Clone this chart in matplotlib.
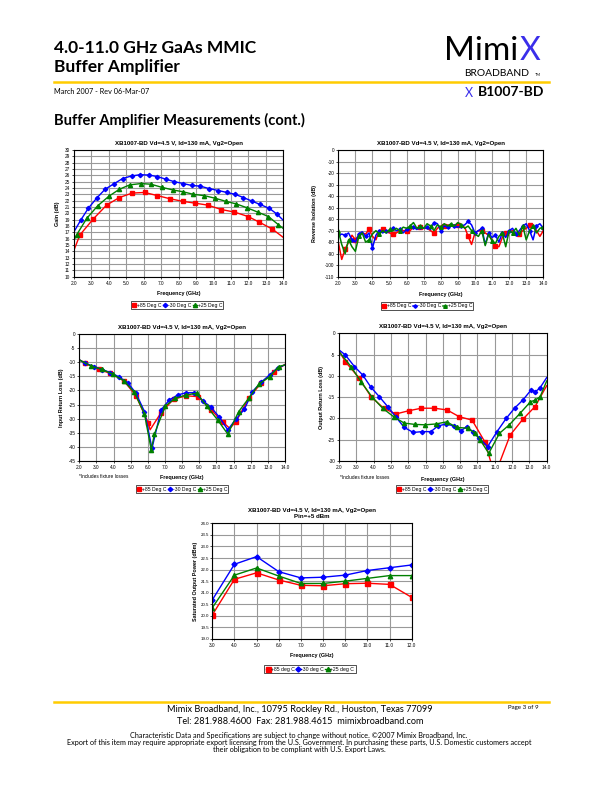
import numpy as np
import matplotlib
matplotlib.use("Agg")
import matplotlib.pyplot as plt
from matplotlib.ticker import MultipleLocator, FormatStrFormatter
from matplotlib.lines import Line2D

W, H = 612, 792
RED, BLUE, GREEN = "#FF0000", "#0000FF", "#008000"
GOLD = "#FFCC00"
CHART_FONT = "Liberation Sans"
PAGE_FONT = "Lato"

# ---- gain (dB) ----
gain_hot_f = [2.0, 2.34, 3.1, 3.87, 4.6, 5.34, 6.05, 6.78, 7.51, 8.23, 8.96, 9.67, 10.45, 11.2, 11.98, 12.63, 13.38, 14.0]
gain_hot = [14.2, 16.6, 19.1, 21.3, 22.5, 23.2, 23.3, 22.8, 22.3, 21.9, 21.6, 21.3, 20.6, 20.2, 19.5, 18.6, 17.5, 16.2]
gain_cold_f = [2.0, 2.38, 2.82, 3.3, 3.78, 4.31, 4.79, 5.3, 5.79, 6.3, 6.78, 7.26, 7.75, 8.27, 8.75, 9.23,
               9.76, 10.28, 10.76, 11.24, 11.71, 12.23, 12.67, 13.19, 13.63, 14.0]
gain_cold = [17.1, 18.9, 20.8, 22.4, 23.8, 24.7, 25.5, 25.9, 26.1, 26.05, 25.8, 25.4, 25.0, 24.7, 24.4, 24.3,
             23.9, 23.6, 23.3, 23.0, 22.5, 21.9, 21.4, 20.8, 19.9, 18.9]
gain_room_f = [2.0, 2.15, 2.73, 3.36, 4.0, 4.6, 5.2, 5.84, 6.41, 7.05, 7.66, 8.26, 8.85, 9.46, 10.07, 10.7,
               11.29, 11.9, 12.53, 13.15, 13.72, 14.0]
gain_room = [15.8, 16.6, 19.2, 21.2, 22.7, 23.8, 24.5, 24.7, 24.6, 24.1, 23.7, 23.4, 23.0, 22.8, 22.4, 21.9,
             21.5, 20.9, 20.2, 19.5, 18.2, 17.6]

# ---- reverse isolation (dB), sweep 2-14 GHz in 0.2 GHz steps ----
iso_f = np.linspace(2.0, 14.0, 61)
iso_hot = [-80, -95, -86, -80, -74, -78, -74, -72, -73, -69, -75, -78, -70, -69, -71, -72, -73, -72, -70, -70,
           -70, -70, -67, -68, -67, -68, -68, -70, -72, -68, -66, -66, -65, -66, -65, -65, -67, -67, -75, -82,
           -72, -70, -70, -72, -74, -78, -83, -84, -76, -72, -71, -70, -74, -73, -70, -68, -65, -65, -70, -75, -70]
iso_cold = [-74, -73, -74, -72, -78, -80, -73, -71, -75, -72, -85, -74, -70, -72, -70, -71, -68, -70, -69, -72,
            -69, -68, -67, -69, -67, -68, -67, -69, -63, -64, -70, -66, -67, -65, -66, -67, -66, -65, -62, -65,
            -72, -70, -68, -82, -72, -76, -74, -80, -72, -76, -70, -68, -73, -70, -66, -64, -70, -78, -66, -64, -68]
iso_room = [-70, -82, -90, -78, -84, -88, -75, -72, -80, -78, -73, -70, -73, -70, -72, -69, -70, -68, -70, -67,
            -68, -66, -63, -68, -66, -68, -64, -66, -70, -65, -67, -64, -66, -64, -66, -63, -65, -68, -66, -70,
            -73, -75, -70, -83, -73, -79, -81, -75, -72, -84, -70, -72, -68, -74, -66, -78, -70, -66, -72, -68, -67]

# ---- input return loss (dB) ----
irl_hot_f = [2.0, 2.35, 3.13, 3.81, 4.59, 5.31, 6.03, 6.13, 6.77, 7.5, 8.23, 8.95, 9.69, 10.4, 10.78, 11.14,
             11.88, 12.6, 13.38, 14.0]
irl_hot = [-9.1, -10.3, -12.5, -13.9, -16.5, -21.9, -31.7, -34.0, -27.9, -23.1, -21.9, -22.2, -26.9, -31.4,
           -33.5, -31.1, -22.8, -17.4, -13.3, -10.7]
irl_cold_f = [2.0, 2.35, 2.88, 3.35, 3.81, 4.3, 4.82, 5.31, 5.8, 6.24, 6.77, 7.25, 7.74, 8.23, 8.72, 9.2,
              9.69, 10.17, 10.66, 11.14, 11.63, 12.1, 12.6, 13.1, 13.57, 14.0]
irl_cold = [-9.1, -10.3, -11.5, -12.6, -13.6, -15.1, -17.2, -21.0, -27.5, -40.6, -26.9, -23.4, -21.6, -20.8,
            -20.8, -23.6, -26.0, -29.5, -34.0, -30.2, -26.7, -20.4, -17.1, -14.5, -11.9, -10.9]
irl_room_f = [2.0, 2.68, 3.33, 3.95, 4.59, 5.21, 5.8, 6.2, 6.38, 7.02, 7.6, 8.23, 8.85, 9.45, 10.07, 10.66,
              11.3, 11.88, 12.47, 13.1, 13.63, 14.0]
irl_room = [-9.1, -11.3, -12.5, -14.2, -16.5, -20.6, -28.3, -41.2, -35.5, -25.5, -22.8, -21.6, -21.0, -25.7,
            -30.5, -35.5, -27.5, -22.8, -17.8, -15.1, -11.5, -10.9]

# ---- output return loss (dB) ----
orl_hot_f = [2.0, 2.37, 3.14, 3.85, 4.58, 5.29, 6.02, 6.76, 7.51, 8.24, 8.95, 9.69, 10.44, 10.79, 11.0, 11.27,
             11.89, 12.62, 13.33, 14.0]
orl_hot = [-4.1, -6.7, -10.4, -14.9, -17.6, -18.95, -18.2, -17.6, -17.6, -18.0, -19.6, -20.4, -25.6, -30.5,
           -33.0, -30.5, -23.9, -20.2, -17.2, -12.3]
orl_cold_f = [2.0, 2.37, 2.89, 3.37, 3.85, 4.33, 4.81, 5.29, 5.77, 6.29, 6.79, 7.31, 7.7, 8.18, 8.66, 9.05,
              9.38, 9.72, 10.11, 10.59, 11.13, 11.66, 12.14, 12.62, 13.1, 13.35, 13.6, 14.0]
orl_cold = [-3.9, -5.1, -7.8, -9.8, -12.7, -14.9, -17.2, -19.7, -22.1, -23.3, -23.1, -23.1, -21.8, -21.3,
            -21.8, -22.9, -21.9, -23.1, -24.7, -26.6, -23.1, -20.0, -17.6, -15.7, -13.3, -13.7, -12.9, -10.4]
orl_room_f = [2.0, 2.69, 3.27, 3.9, 4.52, 5.19, 5.77, 6.38, 6.98, 7.6, 8.22, 8.8, 9.44, 9.88, 10.15, 10.65,
              11.27, 11.84, 12.46, 13.06, 13.33, 13.62, 14.0]
orl_room = [-4.3, -7.8, -11.4, -14.9, -17.6, -19.7, -21.1, -21.4, -21.5, -21.3, -20.8, -22.1, -22.3, -23.5,
            -25.0, -28.2, -23.5, -21.5, -18.8, -16.1, -15.7, -14.9, -11.2]

# ---- saturated output power (dBm) ----
psat_f = [3.0, 4.0, 5.0, 6.0, 7.0, 8.0, 9.0, 10.0, 11.0, 12.0]
psat_hot = [20.04, 21.58, 21.86, 21.55, 21.32, 21.30, 21.39, 21.41, 21.36, 20.80]
psat_cold = [20.69, 22.23, 22.56, 21.91, 21.64, 21.67, 21.76, 21.96, 22.08, 22.20]
psat_room = [20.35, 21.76, 22.07, 21.72, 21.40, 21.40, 21.50, 21.62, 21.74, 21.74]

title = "XB1007-BD Vd=4.5 V, Id=130 mA, Vg2=Open"
leg_deg = ["+85 Deg C", "-30 Deg C", "+25 Deg C"]
leg_deg_lower = ["+85 deg C", "-30 deg C", "+25 deg C"]

fig = plt.figure(figsize=(W / 100, H / 100), dpi=100)
fig.patch.set_facecolor("white")


def fx(x):
    return x / W


def fy(y):
    return 1 - y / H


def make_axes(left, top, right, bottom):
    return fig.add_axes([fx(left), fy(bottom), (right - left) / W, (bottom - top) / H])


def style(ax, ttl, ylabel, xlim, ylim, ystep, yfmt, xstep, ylab_x, xlab_y, legend_xy, labels):
    ax.set_xlim(*xlim)
    ax.set_ylim(*ylim)
    ax.xaxis.set_major_locator(MultipleLocator(xstep))
    ax.xaxis.set_major_formatter(FormatStrFormatter("%.1f"))
    ax.yaxis.set_major_locator(MultipleLocator(ystep))
    ax.yaxis.set_major_formatter(FormatStrFormatter(yfmt))
    ax.grid(True, color="#999999", linewidth=0.8)
    ax.set_axisbelow(True)
    for s in ax.spines.values():
        s.set_linewidth(0.8)
        s.set_color("black")
    ax.tick_params(length=1.6, width=0.5, labelsize=3.4, pad=1.2)
    for lab in ax.get_xticklabels() + ax.get_yticklabels():
        lab.set_fontfamily(CHART_FONT)
    ax.set_title(ttl, fontsize=4.4, fontweight="bold", family=CHART_FONT, pad=3.5)
    ax.set_xlabel("Frequency (GHz)", fontsize=3.9, fontweight="bold", family=CHART_FONT, va="center")
    ax.set_ylabel(ylabel, fontsize=3.9, fontweight="bold", family=CHART_FONT, va="center", ha="center")
    pos = ax.get_position()
    ax.xaxis.set_label_coords((pos.x0 + pos.x1) / 2, fy(xlab_y), transform=fig.transFigure)
    ax.yaxis.set_label_coords(fx(ylab_x), (pos.y0 + pos.y1) / 2, transform=fig.transFigure)
    leg = ax.legend(labels, loc="center", bbox_to_anchor=(fx(legend_xy[0]), fy(legend_xy[1])),
                    bbox_transform=fig.transFigure, ncol=3, frameon=True, fancybox=False,
                    edgecolor="black", handlelength=0.9, handletextpad=0.1, columnspacing=0.25,
                    borderpad=0.25, borderaxespad=0, prop={"family": CHART_FONT, "size": 3.7})
    leg.get_frame().set_linewidth(0.6)


# 1: gain
ax1 = make_axes(74, 150, 283.3, 276.7)
ax1.plot(gain_hot_f, gain_hot, color=RED, lw=1.0, marker="s", ms=3.4, markevery=slice(1, -1))
ax1.plot(gain_cold_f, gain_cold, color=BLUE, lw=1.0, marker="D", ms=2.2, markevery=slice(1, -1))
ax1.plot(gain_room_f, gain_room, color=GREEN, lw=1.0, marker="^", ms=3.0, markevery=slice(1, -1))
style(ax1, title, "Gain (dB)", (2, 14), (10, 30), 1, "%d", 1, 57, 294, (177, 305), leg_deg)

# 2: reverse isolation
ax2 = make_axes(338.3, 150, 543.3, 276.7)
red_marks = [2, 5, 9, 13, 16, 20, 24, 28, 31, 35, 38, 42, 46, 49, 53, 56]
ax2.plot(iso_f, iso_hot, color=RED, lw=1.1, marker="s", ms=3.4, markevery=red_marks)
ax2.plot(iso_f, iso_cold, color=BLUE, lw=1.1, marker="D", ms=1.8, markevery=2)
ax2.plot(iso_f, iso_room, color=GREEN, lw=1.1, marker="^", ms=2.6, markevery=3)
style(ax2, title, "Reverse Isolation (dB)", (2, 14), (-110, 0), 10, "%d", 1, 315, 295, (427, 306), leg_deg)

# 3: input return loss
ax3 = make_axes(79.3, 334.3, 285, 460.7)
ax3.plot(irl_hot_f, irl_hot, color=RED, lw=1.0, marker="s", ms=3.4,
         markevery=[1, 2, 3, 4, 5, 6, 8, 9, 10, 11, 12, 13, 15, 16, 17, 18])
ax3.plot(irl_cold_f, irl_cold, color=BLUE, lw=1.0, marker="D", ms=2.2, markevery=slice(1, -1))
ax3.plot(irl_room_f, irl_room, color=GREEN, lw=1.0, marker="^", ms=3.0, markevery=slice(1, -1))
style(ax3, title, "Input Return Loss (dB)", (2, 14), (-45, 0), 5, "%d", 1, 62, 478, (182, 489), leg_deg)
fig.text(fx(79), fy(477), "*Includes fixture losses", fontsize=3.4, family=CHART_FONT, va="center", ha="left")

# 4: output return loss
ax4 = make_axes(339, 333.3, 546.7, 461)
ax4.plot(orl_hot_f, orl_hot, color=RED, lw=1.0, marker="s", ms=3.4,
         markevery=[1, 2, 3, 4, 5, 6, 7, 8, 9, 10, 11, 12, 16, 17, 18])
ax4.plot(orl_cold_f, orl_cold, color=BLUE, lw=1.0, marker="D", ms=2.2, markevery=slice(1, -1))
ax4.plot(orl_room_f, orl_room, color=GREEN, lw=1.0, marker="^", ms=3.0, markevery=slice(1, -1))
style(ax4, title, "Output Return Loss (dB)", (2, 14), (-30, 0), 5, "%d", 1, 321, 479, (442, 489), leg_deg)
fig.text(fx(340), fy(478), "*Includes fixture losses", fontsize=3.4, family=CHART_FONT, va="center", ha="left")

# 5: saturated output power
ax5 = make_axes(212.3, 523.3, 411.7, 639)
ax5.plot(psat_f, psat_hot, color=RED, lw=1.0, marker="s", ms=3.6)
ax5.plot(psat_f, psat_cold, color=BLUE, lw=1.0, marker="D", ms=2.6)
ax5.plot(psat_f, psat_room, color=GREEN, lw=1.0, marker="^", ms=3.2)
style(ax5, title + "\nPin=+5 dBm", "Saturated Output Power (dBm)", (3, 12), (19, 24), 0.5, "%.1f", 1,
      195, 656, (310, 669), leg_deg_lower)
ax5.tick_params(axis="y", labelsize=3.2, pad=1.0, length=1.4)
ax5.title.set_linespacing(1.4)

# ---- page header ----
fig.text(fx(54), fy(48), "4.0-11.0 GHz GaAs MMIC", fontsize=12.5, fontweight="bold", family=PAGE_FONT,
         va="center", ha="left")
fig.text(fx(54), fy(67), "Buffer Amplifier", fontsize=12.5, fontweight="bold", family=PAGE_FONT,
         va="center", ha="left")
fig.add_artist(Line2D([fx(54), fx(549)], [fy(82), fy(82)], color=GOLD, lw=1.8, transform=fig.transFigure))
fig.text(fx(54), fy(92), "March 2007 - Rev 06-Mar-07", fontsize=5.2, family=PAGE_FONT, va="center", ha="left")

# logo: "Mimi" in black, the trailing X in blue placed right after it
mimi = fig.text(fx(444), fy(51), "Mimi", fontsize=24, fontweight="normal", family=PAGE_FONT,
                va="center", ha="left")
fig.canvas.draw()
mimi_end = mimi.get_window_extent().x1
fig.text(mimi_end / W + 1.0 / W, fy(51), "X", fontsize=23, fontweight="normal", color="#3A2EEA",
         family=PAGE_FONT, va="center", ha="left")
fig.text(fx(464), fy(73), "BROADBAND", fontsize=7.4, fontweight="normal", family=PAGE_FONT, va="center", ha="left")
fig.text(fx(535), fy(75.5), "TM", fontsize=2.8, family=PAGE_FONT, va="center", ha="left")
fig.text(fx(465), fy(93), "X", fontsize=9, fontweight="normal", color="#3A2EEA", family=PAGE_FONT,
         va="center", ha="left")
fig.text(fx(478), fy(92), "B1007-BD", fontsize=10, fontweight="bold", family=PAGE_FONT, va="center", ha="left")
fig.text(fx(54), fy(120), "Buffer Amplifier Measurements (cont.)", fontsize=10.5, fontweight="bold",
         family=PAGE_FONT, va="center", ha="left")

# ---- page footer ----
fig.add_artist(Line2D([fx(54), fx(549)], [fy(702), fy(702)], color=GOLD, lw=1.8, transform=fig.transFigure))
fig.text(fx(300), fy(709.5), "Mimix Broadband, Inc., 10795 Rockley Rd., Houston, Texas 77099", fontsize=6.6,
         family=PAGE_FONT, va="center", ha="center")
fig.text(fx(300), fy(721.5), "Tel: 281.988.4600  Fax: 281.988.4615  mimixbroadband.com", fontsize=6.6,
         family=PAGE_FONT, va="center", ha="center")
fig.text(fx(508), fy(707), "Page 3 of 9", fontsize=4.4, family=PAGE_FONT, va="center", ha="left")
disclaimer = ["Characteristic Data and Specifications are subject to change without notice. \u00a92007 Mimix Broadband, Inc.",
              "Export of this item may require appropriate export licensing from the U.S. Government. In purchasing these parts, U.S. Domestic customers accept",
              "their obligation to be compliant with U.S. Export Laws."]
for i, line in enumerate(disclaimer):
    fig.text(fx(299), fy(735 + 7.3 * i), line, fontsize=5.2, family=PAGE_FONT, va="center", ha="center")

fig.savefig("out.png", dpi=100)
